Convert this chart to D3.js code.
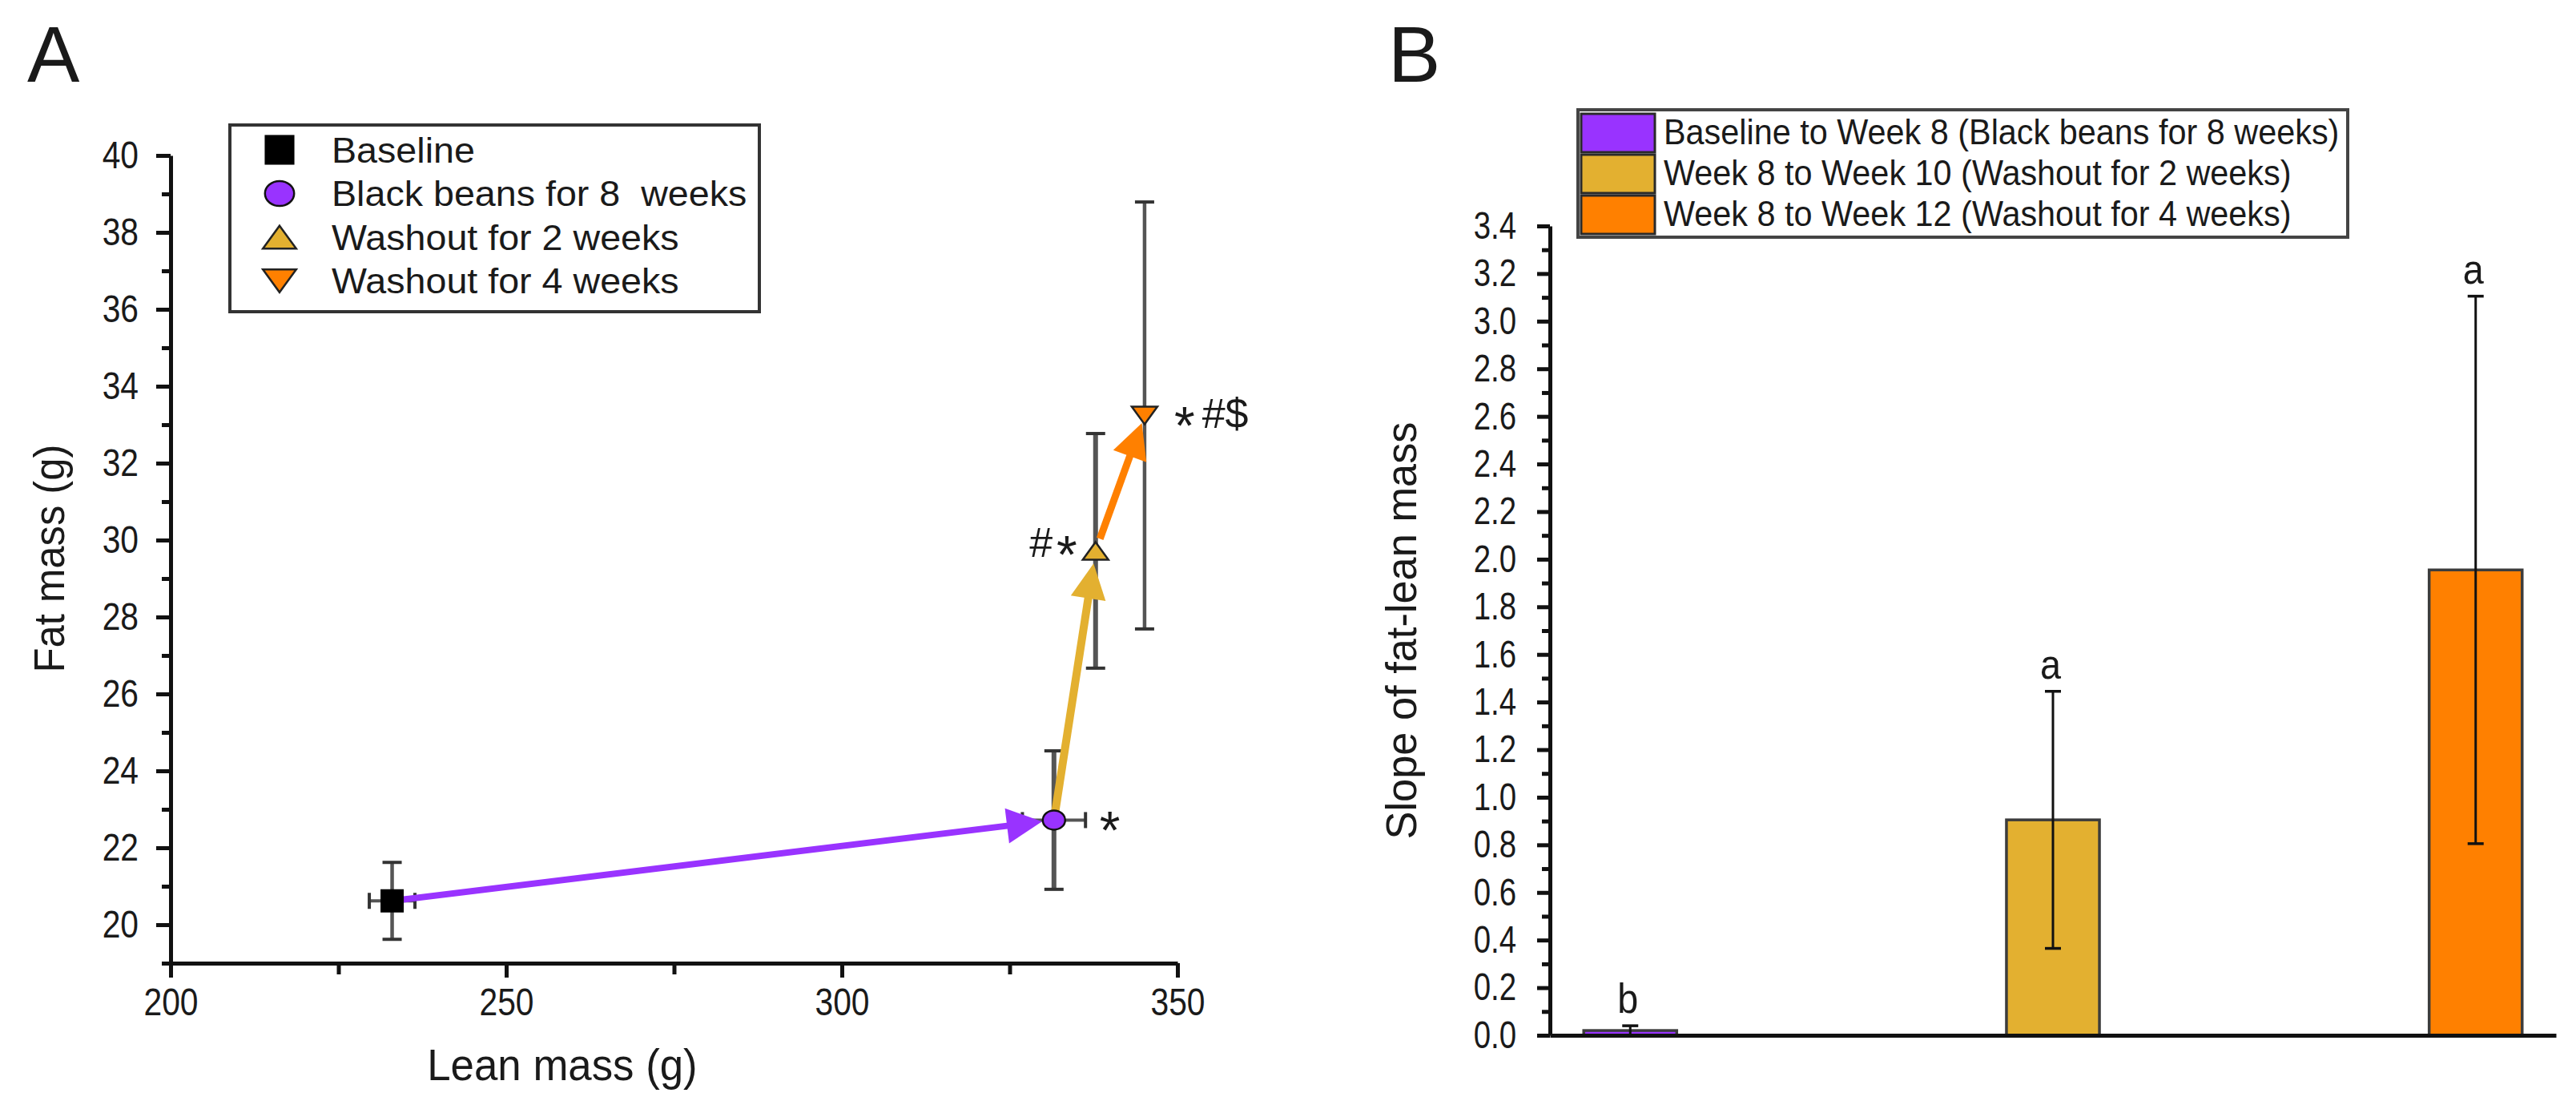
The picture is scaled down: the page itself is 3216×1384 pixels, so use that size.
<!DOCTYPE html>
<html>
<head>
<meta charset="utf-8">
<script src="https://cdn.jsdelivr.net/npm/d3@7"></script>
<style>
  body { margin: 0; background: #fff; }
  text { font-family: "Liberation Sans", Arial, sans-serif; fill: #1a1a1a; }
  .axis .domain { stroke: #111; stroke-width: 5; }
  .axis .tick line { stroke: #111; stroke-width: 5; }
</style>
</head>
<body>
<script>
// panel A data
var groupsA = ["Baseline", "Black beans for 8  weeks", "Washout for 2 weeks", "Washout for 4 weeks"];
var leanMass = [233.0, 331.6, 337.8, 345.1];
var leanErr = [3.4, 4.7, 0, 0];
var fatMass = [20.62, 22.72, 29.72, 33.24];
var fatErr = [1.0, 1.8, 3.05, 5.55];
var notesA = ["", "*", "#*", "*#$"];
var xTicksA = [200, 250, 300, 350];
var xMinorA = [225, 275, 325];
var yTicksA = [20, 22, 24, 26, 28, 30, 32, 34, 36, 38, 40];
var yMinorA = [19, 21, 23, 25, 27, 29, 31, 33, 35, 37, 39];

// panel B data
var groupsB = ["Baseline to Week 8 (Black beans for 8 weeks)", "Week 8 to Week 10 (Washout for 2 weeks)", "Week 8 to Week 12 (Washout for 4 weeks)"];
var slope = [0.02, 0.905, 1.955];
var slopeErr = [0.02, 0.54, 1.15];
var lettersB = ["b", "a", "a"];
var yTicksB = [0.0, 0.2, 0.4, 0.6, 0.8, 1.0, 1.2, 1.4, 1.6, 1.8, 2.0, 2.2, 2.4, 2.6, 2.8, 3.0, 3.2, 3.4];
var yMinorB = [0.1, 0.3, 0.5, 0.7, 0.9, 1.1, 1.3, 1.5, 1.7, 1.9, 2.1, 2.3, 2.5, 2.7, 2.9, 3.1, 3.3];

var colors = ["#000000", "#9933ff", "#e3b030", "#ff8000"];
var barColors = ["#9933ff", "#e3b030", "#ff8000"];

var svg = d3.select("body").append("svg")
    .attr("width", 3216)
    .attr("height", 1384);

// squeeze/stretch text horizontally round its anchor
var squeeze = function(sel, sx) {
    sel.each(function() {
        var t = d3.select(this);
        var x = +t.attr("x") || 0, y = +t.attr("y") || 0;
        t.attr("transform", "translate(" + x + "," + y + ") scale(" + sx + ",1) translate(" + (-x) + "," + (-y) + ")");
    });
};

var xA = d3.scaleLinear().domain([200, 350]).range([213, 1470]);
var yA = d3.scaleLinear().domain([19, 40]).range([1202, 194]);

var xB = d3.scaleBand().domain(groupsB).range([1935, 3191]).paddingInner(0.78).paddingOuter(0.08);
var yB = d3.scaleLinear().domain([0, 3.4]).range([1292, 282]);

var drawMarker = function(g, i, cx, cy, s) {
    var fill = colors[i];
    if (i == 0) {
        g.append("rect").attr("x", cx - 13.5 * s).attr("y", cy - 13.5 * s)
            .attr("width", 27 * s).attr("height", 27 * s)
            .attr("fill", fill).attr("stroke", "#000").attr("stroke-width", 2);
    } else if (i == 1) {
        g.append("ellipse").attr("cx", cx).attr("cy", cy)
            .attr("rx", 14 * s).attr("ry", 12 * s)
            .attr("fill", fill).attr("stroke", "#111").attr("stroke-width", 2.5);
    } else {
        var h = 11 * s, w = 16 * s, d = (i == 2) ? 1 : -1;
        var pts = [[cx, cy - d * h], [cx + w, cy + d * h], [cx - w, cy + d * h]];
        g.append("path").attr("d", d3.line()(pts) + "Z")
            .attr("fill", fill).attr("stroke", "#222").attr("stroke-width", 2.5);
    }
};

var drawPanelA = function() {
    var g = svg.append("g").attr("class", "panelA");

    g.append("text").text("A").attr("x", 34).attr("y", 102)
        .attr("font-size", 98);

    // axes
    var xAxis = g.append("g").attr("class", "axis")
        .attr("transform", "translate(0,1202)")
        .call(d3.axisBottom(xA).tickValues(xTicksA).tickSize(18).tickSizeOuter(0).tickPadding(13).tickFormat(d3.format("d")));
    xAxis.selectAll("text").attr("font-size", 48).call(squeeze, 0.85);
    g.append("g").attr("class", "axis")
        .attr("transform", "translate(0,1202)")
        .call(d3.axisBottom(xA).tickValues(xMinorA).tickSize(14).tickFormat(""))
        .select(".domain").remove();

    var yAxis = g.append("g").attr("class", "axis")
        .attr("transform", "translate(213,0)")
        .call(d3.axisLeft(yA).tickValues(yTicksA).tickSize(18).tickSizeOuter(0).tickPadding(22));
    yAxis.selectAll("text").attr("font-size", 48).call(squeeze, 0.85);
    g.append("g").attr("class", "axis")
        .attr("transform", "translate(213,0)")
        .call(d3.axisLeft(yA).tickValues(yMinorA).tickSize(11).tickFormat(""))
        .select(".domain").remove();

    g.append("text").text("Lean mass (g)")
        .attr("x", 702).attr("y", 1348)
        .attr("text-anchor", "middle").attr("font-size", 55)
        .call(squeeze, 0.96);
    g.append("text").text("Fat mass (g)")
        .attr("transform", "translate(80,697) rotate(-90) scale(0.94,1)")
        .attr("text-anchor", "middle").attr("font-size", 54);

    // error bars
    var eb = g.append("g");
    leanMass.forEach(function(d, i) {
        var cx = xA(d), cy = yA(fatMass[i]);
        var w = (i == 0 || i == 3) ? 4.5 : 6;
        var y0 = yA(fatMass[i] - fatErr[i]), y1 = yA(fatMass[i] + fatErr[i]);
        eb.append("line").attr("x1", cx).attr("x2", cx).attr("y1", y0).attr("y2", y1)
            .attr("stroke", "#555").attr("stroke-width", w);
        [y0, y1].forEach(function(yy) {
            eb.append("line").attr("x1", cx - 12).attr("x2", cx + 12).attr("y1", yy).attr("y2", yy)
                .attr("stroke", "#333").attr("stroke-width", 4);
        });
        if (leanErr[i] > 0) {
            var x0 = xA(d - leanErr[i]), x1 = xA(d + leanErr[i]);
            eb.append("line").attr("x1", x0).attr("x2", x1).attr("y1", cy).attr("y2", cy)
                .attr("stroke", "#555").attr("stroke-width", 4);
            [x0, x1].forEach(function(xx) {
                eb.append("line").attr("x1", xx).attr("x2", xx).attr("y1", cy - 10).attr("y2", cy + 10)
                    .attr("stroke", "#333").attr("stroke-width", 4);
            });
        }
    });

    // arrows between consecutive time points
    var gaps = [[12, 15], [12, 16], [16, 10]];
    var shaft = [8, 10, 9];
    var headLen = 44, headW = 44;
    var arr = g.append("g");
    for (var i = 0; i < leanMass.length - 1; i++) {
        var p0 = [xA(leanMass[i]), yA(fatMass[i])];
        var p1 = [xA(leanMass[i + 1]), yA(fatMass[i + 1])];
        var dx = p1[0] - p0[0], dy = p1[1] - p0[1];
        var len = Math.sqrt(dx * dx + dy * dy);
        var u = [dx / len, dy / len], n = [-u[1], u[0]];
        var s = [p0[0] + u[0] * gaps[i][0], p0[1] + u[1] * gaps[i][0]];
        var tip = [p1[0] - u[0] * gaps[i][1], p1[1] - u[1] * gaps[i][1]];
        var base = [tip[0] - u[0] * headLen, tip[1] - u[1] * headLen];
        arr.append("line")
            .attr("x1", s[0]).attr("y1", s[1])
            .attr("x2", base[0] + u[0] * 4).attr("y2", base[1] + u[1] * 4)
            .attr("stroke", colors[i + 1]).attr("stroke-width", shaft[i]);
        var head = [tip,
            [base[0] + n[0] * headW / 2, base[1] + n[1] * headW / 2],
            [base[0] - n[0] * headW / 2, base[1] - n[1] * headW / 2]];
        arr.append("path").attr("d", d3.line()(head) + "Z")
            .attr("fill", colors[i + 1]);
    }

    // markers
    var mk = g.append("g");
    leanMass.forEach(function(d, i) {
        drawMarker(mk, i, xA(d), yA(fatMass[i]), 1);
    });

    // significance marks; asterisks drawn bigger and lower, like the original
    var noteX = [0, 57, -23, 37];
    var noteY = [0, 16, 8, 16];
    var anchor = ["start", "start", "end", "start"];
    notesA.forEach(function(t, i) {
        if (!t) return;
        var tx = g.append("text")
            .attr("x", xA(leanMass[i]) + noteX[i])
            .attr("y", yA(fatMass[i]) + noteY[i])
            .attr("text-anchor", anchor[i])
            .attr("font-size", 52);
        t.split("").forEach(function(c, k) {
            var ts = tx.append("tspan").text(c);
            if (c == "*") {
                ts.attr("font-size", 66).attr("baseline-shift", -20);
                if (k > 0) ts.attr("dx", 5);
            } else if (k > 0 && t[k - 1] == "*") {
                ts.attr("dx", 9);
            }
        });
    });

    // legend
    var lg = g.append("g");
    lg.append("rect").attr("x", 287).attr("y", 156).attr("width", 661).attr("height", 233)
        .attr("fill", "#fff").attr("stroke", "#333").attr("stroke-width", 4);
    groupsA.forEach(function(name, i) {
        var by = 203 + i * 54.5;
        drawMarker(lg, i, 349, by - 16, 1.3);
        lg.append("text").text(name).attr("x", 414).attr("y", by)
            .attr("font-size", 44).style("white-space", "pre")
            .call(squeeze, 1.06);
    });
};

var drawPanelB = function() {
    var g = svg.append("g").attr("class", "panelB");

    g.append("text").text("B").attr("x", 1733).attr("y", 102)
        .attr("font-size", 98);

    // bars
    g.selectAll("rect.bar").data(groupsB).enter().append("rect")
        .attr("class", "bar")
        .attr("x", function(d) { return xB(d); })
        .attr("width", xB.bandwidth())
        .attr("y", function(d, i) { return yB(slope[i]); })
        .attr("height", function(d, i) { return yB(0) - yB(slope[i]); })
        .attr("fill", function(d, i) { return barColors[i]; })
        .attr("stroke", "#3c3c3c").attr("stroke-width", 3.5);

    // error bars
    groupsB.forEach(function(d, i) {
        var cx = xB(d) + xB.bandwidth() / 2;
        var y0 = yB(Math.max(0, slope[i] - slopeErr[i])), y1 = yB(slope[i] + slopeErr[i]);
        g.append("line").attr("x1", cx).attr("x2", cx).attr("y1", y0).attr("y2", y1)
            .attr("stroke", "#111").attr("stroke-width", 3);
        [y0, y1].forEach(function(yy) {
            if (i == 0 && yy == y0) return;
            g.append("line").attr("x1", cx - 10).attr("x2", cx + 10).attr("y1", yy).attr("y2", yy)
                .attr("stroke", "#111").attr("stroke-width", 3.5);
        });
        g.append("text").text(lettersB[i])
            .attr("x", cx - 3).attr("y", y1 - 16)
            .attr("text-anchor", "middle").attr("font-size", 52)
            .call(squeeze, 0.9);
    });

    // axes
    var yAxis = g.append("g").attr("class", "axis")
        .attr("transform", "translate(1935,0)")
        .call(d3.axisLeft(yB).tickValues(yTicksB).tickSize(16).tickSizeOuter(0).tickPadding(26).tickFormat(d3.format(".1f")));
    yAxis.selectAll("text").attr("font-size", 48).call(squeeze, 0.8);
    g.append("g").attr("class", "axis")
        .attr("transform", "translate(1935,0)")
        .call(d3.axisLeft(yB).tickValues(yMinorB).tickSize(10).tickFormat(""))
        .select(".domain").remove();
    g.append("g").attr("class", "axis")
        .attr("transform", "translate(0,1292)")
        .call(d3.axisBottom(xB).tickValues([]).tickSizeOuter(0));

    g.append("text").text("Slope of fat-lean mass")
        .attr("transform", "translate(1768,787) rotate(-90) scale(0.97,1)")
        .attr("text-anchor", "middle").attr("font-size", 54);

    // legend
    var lg = g.append("g");
    lg.append("rect").attr("x", 1970).attr("y", 137).attr("width", 961).attr("height", 159)
        .attr("fill", "#fff").attr("stroke", "#444").attr("stroke-width", 4);
    groupsB.forEach(function(name, i) {
        lg.append("rect").attr("x", 1974).attr("y", 142 + i * 51)
            .attr("width", 92).attr("height", 48)
            .attr("fill", barColors[i]).attr("stroke", "#2a2a2a").attr("stroke-width", 3);
        lg.append("text").text(name).attr("x", 2077).attr("y", 180 + i * 51)
            .attr("font-size", 45)
            .call(squeeze, 0.92);
    });
};

drawPanelA();
drawPanelB();
</script>
</body>
</html>
